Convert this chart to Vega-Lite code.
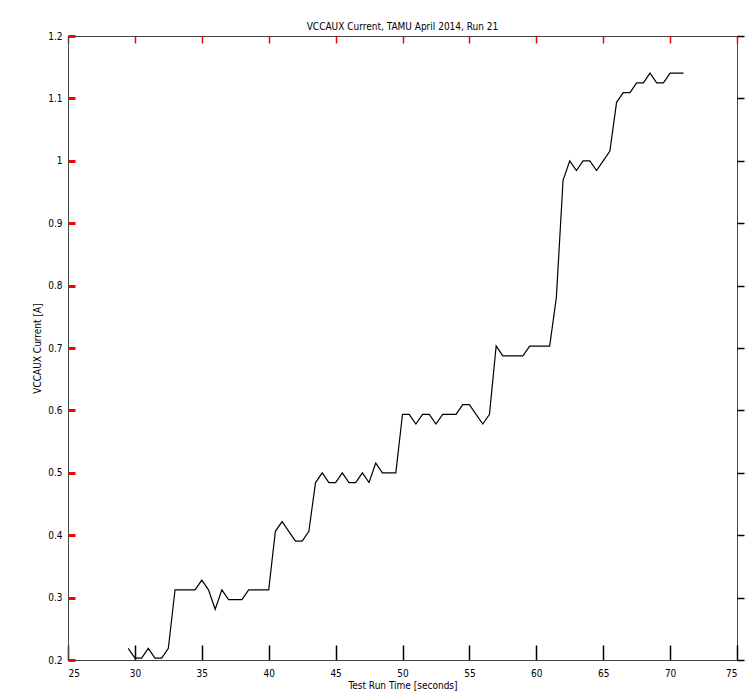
{
  "$schema": "https://vega.github.io/schema/vega-lite/v6.json",
  "autosize": {"type": "none"},
  "width": 669,
  "height": 624,
  "padding": {"left": 68, "top": 36, "right": 19, "bottom": 34},
  "background": "white",
  "title": {
    "text": "VCCAUX Current, TAMU April 2014, Run 21",
    "fontSize": 10,
    "fontWeight": "normal",
    "font": "Liberation Sans Narrow, DejaVu Sans Condensed, sans-serif",
    "color": "black",
    "offset": -1
  },
  "config": {
    "view": {"stroke": "#444", "strokeWidth": 1},
    "axis": {
      "labelFont": "Liberation Sans Narrow, DejaVu Sans Condensed, sans-serif",
      "titleFont": "Liberation Sans Narrow, DejaVu Sans Condensed, sans-serif",
      "labelFontSize": 10,
      "titleFontSize": 10,
      "titleFontWeight": "normal",
      "labelColor": "black",
      "titleColor": "black",
      "domainColor": "#444",
      "gridOpacity": 0
    }
  },
  "data": {
    "values": [
      {"t": 29.5, "v": 0.21875}, {"t": 30, "v": 0.203125}, {"t": 30.5, "v": 0.203125},
      {"t": 31, "v": 0.21875}, {"t": 31.5, "v": 0.203125}, {"t": 32, "v": 0.203125},
      {"t": 32.5, "v": 0.21875}, {"t": 33, "v": 0.3125}, {"t": 33.5, "v": 0.3125},
      {"t": 34, "v": 0.3125}, {"t": 34.5, "v": 0.3125}, {"t": 35, "v": 0.328125},
      {"t": 35.5, "v": 0.3125}, {"t": 36, "v": 0.28125}, {"t": 36.5, "v": 0.3125},
      {"t": 37, "v": 0.296875}, {"t": 37.5, "v": 0.296875}, {"t": 38, "v": 0.296875},
      {"t": 38.5, "v": 0.3125}, {"t": 39, "v": 0.3125}, {"t": 39.5, "v": 0.3125},
      {"t": 40, "v": 0.3125}, {"t": 40.5, "v": 0.40625}, {"t": 41, "v": 0.421875},
      {"t": 41.5, "v": 0.40625}, {"t": 42, "v": 0.390625}, {"t": 42.5, "v": 0.390625},
      {"t": 43, "v": 0.40625}, {"t": 43.5, "v": 0.484375}, {"t": 44, "v": 0.5},
      {"t": 44.5, "v": 0.484375}, {"t": 45, "v": 0.484375}, {"t": 45.5, "v": 0.5},
      {"t": 46, "v": 0.484375}, {"t": 46.5, "v": 0.484375}, {"t": 47, "v": 0.5},
      {"t": 47.5, "v": 0.484375}, {"t": 48, "v": 0.515625}, {"t": 48.5, "v": 0.5},
      {"t": 49, "v": 0.5}, {"t": 49.5, "v": 0.5}, {"t": 50, "v": 0.59375},
      {"t": 50.5, "v": 0.59375}, {"t": 51, "v": 0.578125}, {"t": 51.5, "v": 0.59375},
      {"t": 52, "v": 0.59375}, {"t": 52.5, "v": 0.578125}, {"t": 53, "v": 0.59375},
      {"t": 53.5, "v": 0.59375}, {"t": 54, "v": 0.59375}, {"t": 54.5, "v": 0.609375},
      {"t": 55, "v": 0.609375}, {"t": 55.5, "v": 0.59375}, {"t": 56, "v": 0.578125},
      {"t": 56.5, "v": 0.59375}, {"t": 57, "v": 0.703125}, {"t": 57.5, "v": 0.6875},
      {"t": 58, "v": 0.6875}, {"t": 58.5, "v": 0.6875}, {"t": 59, "v": 0.6875},
      {"t": 59.5, "v": 0.703125}, {"t": 60, "v": 0.703125}, {"t": 60.5, "v": 0.703125},
      {"t": 61, "v": 0.703125}, {"t": 61.5, "v": 0.78125}, {"t": 62, "v": 0.96875},
      {"t": 62.5, "v": 1.0}, {"t": 63, "v": 0.984375}, {"t": 63.5, "v": 1.0},
      {"t": 64, "v": 1.0}, {"t": 64.5, "v": 0.984375}, {"t": 65, "v": 1.0},
      {"t": 65.5, "v": 1.015625}, {"t": 66, "v": 1.09375}, {"t": 66.5, "v": 1.109375},
      {"t": 67, "v": 1.109375}, {"t": 67.5, "v": 1.125}, {"t": 68, "v": 1.125},
      {"t": 68.5, "v": 1.140625}, {"t": 69, "v": 1.125}, {"t": 69.5, "v": 1.125},
      {"t": 70, "v": 1.140625}, {"t": 70.5, "v": 1.140625}, {"t": 71, "v": 1.140625}
    ]
  },
  "layer": [
    {
      "mark": {"type": "line", "color": "black", "strokeWidth": 1.2},
      "encoding": {
        "x": {"field": "t", "type": "quantitative", "scale": {"domain": [25, 75], "nice": false, "zero": false},
              "axis": {"orient": "bottom", "tickCount": 10, "format": "~g", "tickColor": "black", "tickSize": -15, "tickWidth": 1.5, "labelPadding": 23, "title": "Test Run Time [seconds]", "titlePadding": 2}},
        "y": {"field": "v", "type": "quantitative", "scale": {"domain": [0.2, 1.2], "nice": false, "zero": false},
              "axis": {"orient": "left", "tickCount": 10, "format": "~g", "tickColor": "red", "tickSize": -7, "tickWidth": 3, "labelPadding": 13, "title": "VCCAUX Current [A]", "titlePadding": 5}}
      }
    },
    {
      "mark": {"type": "line", "opacity": 0},
      "encoding": {
        "x": {"field": "t", "type": "quantitative", "scale": {"domain": [25, 75], "nice": false, "zero": false},
              "axis": {"orient": "top", "tickCount": 10, "domain": false, "tickColor": "red", "tickSize": -7, "tickWidth": 1.5, "labels": false, "title": null}},
        "y": {"field": "v", "type": "quantitative", "scale": {"domain": [0.2, 1.2], "nice": false, "zero": false},
              "axis": {"orient": "right", "tickCount": 10, "domain": false, "tickColor": "black", "tickSize": 7, "tickWidth": 1.5, "labels": false, "title": null}}
      }
    }
  ],
  "resolve": {"axis": {"x": "independent", "y": "independent"}}
}
